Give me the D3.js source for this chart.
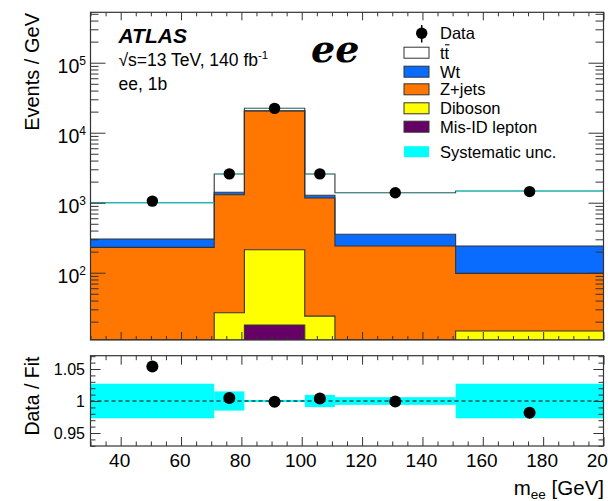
<!DOCTYPE html>
<html>
<head>
<meta charset="utf-8">
<script src="https://cdn.jsdelivr.net/npm/d3@7"></script>
<style>
  body { margin: 0; background: #fff; }
  svg { font-family: "Liberation Sans", Arial, Helvetica, sans-serif; }
</style>
</head>
<body>
<div id="chart"></div>
<script>
// bin edges in m_ee [GeV]
const edges = [30, 71, 81, 101, 111, 151, 200];

// Events / GeV per sample, per bin
const misid   = [0.3, 1.5, 17.9, 1.0, 0.3, 0.3];
const diboson = [6, 25.3, 195, 23, 7, 14.4];
const zjets   = [224, 1274, 20190, 1143, 234, 83];
const wt      = [73, 108, 200, 109, 113, 143];
const ttbar   = [697, 1161, 1700, 1294, 1036, 1228];
const data    = [1054, 2582, 22280, 2580, 1389, 1442];

// lower panel
const ratio   = [1.054, 1.0047, 0.999, 1.004, 0.9994, 0.9817];
const systUnc = [0.027, 0.015, 0.0015, 0.0095, 0.006, 0.027];

const keys = ["misid", "diboson", "zjets", "wt", "ttbar"];
const labels = ["Mis-ID lepton", "Diboson", "Z+jets", "Wt", "tt"];
const colors = ["#660066", "#ffff00", "#ff7700", "#0a6cff", "#ffffff"];

const W = 608, H = 501;
const left = 90.5, right = 603.5;
const top1 = 12.3, bot1 = 340;
const top2 = 355.7, bot2 = 446;
const yMin = 10.93, yMax = 5.25e5;

const svg = d3.select("#chart").append("svg")
    .attr("width", W).attr("height", H);

const x = d3.scaleLinear().domain([30, 200]).range([left, right]);
const y = d3.scaleLog().domain([yMin, yMax]).range([bot1, top1]).clamp(true);
const yr = d3.scaleLinear().domain([0.9297, 1.0708]).range([bot2, top2]);

const defs = svg.append("defs");
defs.append("clipPath").attr("id", "clipTop").append("rect")
    .attr("x", left).attr("y", top1).attr("width", right - left).attr("height", bot1 - top1);
defs.append("clipPath").attr("id", "clipBot").append("rect")
    .attr("x", left).attr("y", top2).attr("width", right - left).attr("height", bot2 - top2);

// ---- stack ----
const rows = edges.slice(0, -1).map((e, i) => ({
    misid: misid[i], diboson: diboson[i], zjets: zjets[i], wt: wt[i], ttbar: ttbar[i]
}));
const series = d3.stack().keys(keys)(rows);
const totals = series[series.length - 1].map(d => d[1]);

const gTop = svg.append("g").attr("clip-path", "url(#clipTop)");
const stepPts = s => edges.map((e, i) => {
    const d = s[Math.min(i, s.length - 1)];
    return { x: e, y0: Math.max(d[0], yMin * 0.5), y1: d[1] };
});
const area = d3.area().curve(d3.curveStepAfter)
    .x(d => x(d.x)).y0(d => y(d.y0)).y1(d => y(d.y1));
const line = d3.line().curve(d3.curveStepAfter)
    .x(d => x(d.x)).y(d => y(d.y1));

series.forEach((s, k) => {
    gTop.append("path").attr("d", area(stepPts(s))).attr("fill", colors[k]);
});
series.forEach(s => {
    gTop.append("path").attr("d", line(stepPts(s)))
        .attr("fill", "none").attr("stroke", "#333").attr("stroke-width", 1.1);
});

// systematic band on the total
gTop.selectAll(".band").data(totals).enter().append("rect")
    .attr("x", (d, i) => x(edges[i]))
    .attr("width", (d, i) => x(edges[i + 1]) - x(edges[i]))
    .attr("y", (d, i) => y(d * (1 + systUnc[i])))
    .attr("height", (d, i) => Math.max(0.6, y(d * (1 - systUnc[i])) - y(d * (1 + systUnc[i]))))
    .attr("fill", "#00ffff").attr("opacity", 0.5);

// data points
const centers = edges.slice(0, -1).map((e, i) => (e + edges[i + 1]) / 2);
gTop.selectAll(".pt").data(data).enter().append("circle")
    .attr("cx", (d, i) => x(centers[i])).attr("cy", d => y(d)).attr("r", 5.7).attr("fill", "#000");

// ---- ratio panel ----
const gBot = svg.append("g").attr("clip-path", "url(#clipBot)");
gBot.selectAll(".rb").data(systUnc).enter().append("rect")
    .attr("x", (d, i) => x(edges[i]))
    .attr("width", (d, i) => x(edges[i + 1]) - x(edges[i]))
    .attr("y", d => yr(1 + d))
    .attr("height", d => Math.max(1, yr(1 - d) - yr(1 + d)))
    .attr("fill", "#00ffff");
gBot.append("line").attr("x1", left).attr("x2", right).attr("y1", yr(1)).attr("y2", yr(1))
    .attr("stroke", "#000").attr("stroke-width", 1).attr("stroke-dasharray", "4,3");
gBot.selectAll(".rp").data(ratio).enter().append("circle")
    .attr("cx", (d, i) => x(centers[i])).attr("cy", d => yr(d)).attr("r", 6).attr("fill", "#000");

// ---- axes (ticks inward, ROOT style) ----
const xMajor = d3.range(40, 201, 20);
const xMinor = d3.range(30, 201, 5).filter(v => v % 20 !== 0);
const tickStyle = g => {
    g.select(".domain").remove();
    g.selectAll("line").attr("stroke", "#333").attr("stroke-width", 1);
};
function xTicks(yb, yt, majL, minL) {
    svg.append("g").attr("transform", `translate(0,${yb})`)
        .call(d3.axisBottom(x).tickValues(xMajor).tickSize(-majL).tickFormat("")).call(tickStyle);
    svg.append("g").attr("transform", `translate(0,${yb})`)
        .call(d3.axisBottom(x).tickValues(xMinor).tickSize(-minL).tickFormat("")).call(tickStyle);
    svg.append("g").attr("transform", `translate(0,${yt})`)
        .call(d3.axisTop(x).tickValues(xMajor).tickSize(-majL).tickFormat("")).call(tickStyle);
    svg.append("g").attr("transform", `translate(0,${yt})`)
        .call(d3.axisTop(x).tickValues(xMinor).tickSize(-minL).tickFormat("")).call(tickStyle);
}
xTicks(bot1, top1, 8, 4);
xTicks(bot2, top2, 9, 4.5);

function yTicks(scale, major, minor, majL, minL) {
    [[d3.axisLeft, left], [d3.axisRight, right]].forEach(([ax, xp]) => {
        svg.append("g").attr("transform", `translate(${xp},0)`)
            .call(ax(scale).tickValues(major).tickSize(-majL).tickFormat("")).call(tickStyle);
        svg.append("g").attr("transform", `translate(${xp},0)`)
            .call(ax(scale).tickValues(minor).tickSize(-minL).tickFormat("")).call(tickStyle);
    });
}
const logTicks = y.ticks().filter(v => v >= yMin && v <= yMax);
const logMajor = logTicks.filter(v => Math.abs(Math.log10(v) - Math.round(Math.log10(v))) < 1e-9);
const logMinor = logTicks.filter(v => !logMajor.includes(v));
yTicks(y, logMajor, logMinor, 15, 8);
const rMajor = [0.95, 1, 1.05];
const rMinor = d3.range(93, 108).map(v => v / 100).filter(v => !rMajor.some(m => Math.abs(m - v) < 1e-9));
yTicks(yr, rMajor, rMinor, 10, 5);

// frames
[[top1, bot1], [top2, bot2]].forEach(([t, b]) => {
    svg.append("rect").attr("x", left).attr("y", t).attr("width", right - left).attr("height", b - t)
        .attr("fill", "none").attr("stroke", "#333").attr("stroke-width", 1.2);
});

// tick labels
logMajor.forEach(v => {
    const t = svg.append("text").attr("x", 86).attr("y", y(v) + 10.5)
        .attr("text-anchor", "end").attr("font-size", 19.5);
    t.append("tspan").text("10");
    t.append("tspan").attr("font-size", 12).attr("dy", -8.5).text(Math.round(Math.log10(v)));
});
rMajor.forEach(v => {
    svg.append("text").attr("x", 85).attr("y", yr(v) + 5.8).attr("text-anchor", "end")
        .attr("font-size", 16).text(v === 1 ? "1" : v.toFixed(2));
});
xMajor.forEach(v => {
    svg.append("text").attr("x", x(v) - 1).attr("y", 466.5).attr("text-anchor", "middle")
        .attr("font-size", 19).text(v);
});

// axis titles
svg.append("text").attr("transform", "translate(38.5,13) rotate(-90)")
    .attr("text-anchor", "end").attr("font-size", 20).text("Events / GeV");
svg.append("text").attr("transform", "translate(39,356.5) rotate(-90)")
    .attr("text-anchor", "end").attr("font-size", 19.5).text("Data / Fit");
const xt = svg.append("text").attr("x", 604).attr("y", 495).attr("text-anchor", "end").attr("font-size", 20.5);
xt.append("tspan").text("m");
xt.append("tspan").attr("font-size", 13.5).attr("dy", 4).text("ee");
xt.append("tspan").attr("dy", -4).text(" [GeV]");

// ATLAS label
svg.append("text").attr("x", 118.5).attr("y", 43.3).attr("font-size", 21)
    .attr("font-weight", "bold").attr("font-style", "italic").text("ATLAS");
const lumi = svg.append("text").attr("x", 118.5).attr("y", 65.5).attr("font-size", 17.5);
lumi.append("tspan").text("\u221As=13 TeV, 140 fb");
lumi.append("tspan").attr("font-size", 11.5).attr("dy", -7).text("-1");
svg.append("text").attr("x", 118.5).attr("y", 90).attr("font-size", 17.5).text("ee, 1b");

svg.append("text").attr("x", 311).attr("y", 62.3)
    .attr("font-family", "'DejaVu Serif', serif").attr("font-weight", "bold").attr("font-style", "italic")
    .attr("font-size", 38).text("ee");

// legend
const lg = svg.append("g");
const lx = 404, tx = 440;
lg.append("line").attr("x1", lx + 17.7).attr("x2", lx + 17.7).attr("y1", 25).attr("y2", 42.5)
    .attr("stroke", "#000").attr("stroke-width", 1.5);
lg.append("circle").attr("cx", lx + 17.7).attr("cy", 33.3).attr("r", 5.7).attr("fill", "#000");
lg.append("text").attr("x", tx).attr("y", 39.2).attr("font-size", 16.5).text("Data");

const legendY = [52.7, 71.7, 89.3, 108.3, 126.7];
const order = [4, 3, 2, 1, 0];
order.forEach((k, j) => {
    lg.append("rect").attr("x", lx).attr("y", legendY[j] - 5.5).attr("width", 25).attr("height", 11)
        .attr("fill", colors[k]).attr("stroke", "#333").attr("stroke-width", 1);
    lg.append("text").attr("x", tx).attr("y", legendY[j] + 6).attr("font-size", 16.5).text(labels[k]);
});
// bar over the second t of tt
lg.append("line").attr("x1", 445).attr("x2", 449.5).attr("y1", 44.8).attr("y2", 44.8)
    .attr("stroke", "#000").attr("stroke-width", 1.1);
lg.append("rect").attr("x", lx).attr("y", 151.7 - 5.5).attr("width", 25).attr("height", 11)
    .attr("fill", "#00ffff");
lg.append("text").attr("x", tx).attr("y", 151.7 + 6).attr("font-size", 16.5).text("Systematic unc.");
</script>
</body>
</html>
